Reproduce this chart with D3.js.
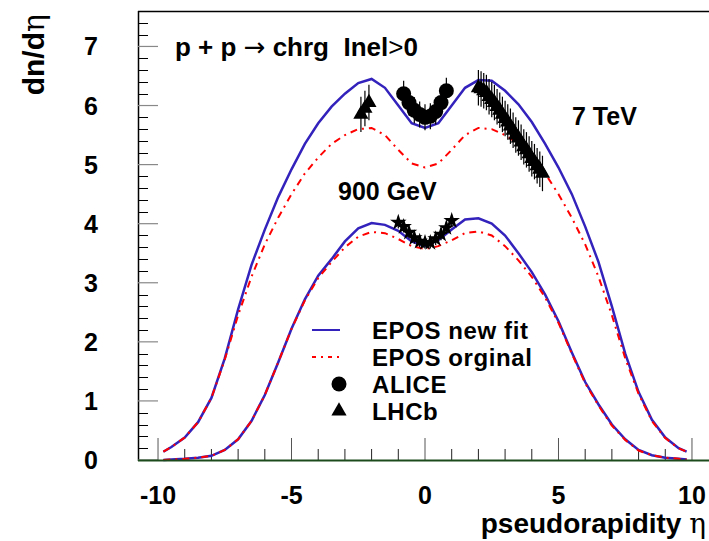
<!DOCTYPE html>
<html>
<head>
<meta charset="utf-8">
<script src="https://cdn.jsdelivr.net/npm/d3@7"></script>
<style>
  body { margin: 0; background: #fff; }
  svg { display: block; font-family: "Liberation Sans", Arial, sans-serif; font-weight: bold; }
  text { white-space: pre; }
</style>
</head>
<body>
<div id="graph"></div>
<script>
// pseudorapidity grid used by the model curves
var etaGrid = [-9.8,-9.5,-9,-8.5,-8,-7.5,-7,-6.5,-6,-5.5,-5,-4.5,-4,-3.5,-3,-2.5,-2,-1.5,-1,-0.5,0,
               0.5,1,1.5,2,2.5,3,3.5,4,4.5,5,5.5,6,6.5,7,7.5,8,8.5,9,9.5,9.8];

// EPOS new fit, 7 TeV
var newFit7 = [0.14,0.22,0.38,0.64,1.05,1.72,2.55,3.3,3.9,4.45,4.92,5.35,5.7,5.98,6.2,6.38,6.45,6.3,6.0,5.7,5.62,
               5.7,6.0,6.3,6.43,6.42,6.25,6.02,5.72,5.35,4.95,4.5,3.95,3.35,2.6,1.8,1.15,0.68,0.38,0.2,0.14];
// EPOS original, 7 TeV
var orig7 =   [0.14,0.22,0.38,0.64,1.05,1.7,2.45,3.1,3.65,4.1,4.5,4.85,5.12,5.35,5.5,5.6,5.62,5.5,5.25,5.02,4.95,
               5.02,5.25,5.5,5.62,5.6,5.5,5.35,5.12,4.85,4.5,4.1,3.65,3.1,2.45,1.72,1.12,0.66,0.37,0.2,0.14];
// EPOS new fit, 900 GeV
var newFit09 = [0.0,0.01,0.02,0.04,0.07,0.17,0.35,0.66,1.1,1.65,2.22,2.72,3.12,3.4,3.7,3.92,4.01,3.98,3.88,3.7,3.62,
                3.72,3.9,4.07,4.09,4.0,3.8,3.5,3.18,2.8,2.35,1.82,1.32,0.94,0.6,0.35,0.17,0.08,0.04,0.02,0.01];
// EPOS original, 900 GeV
var orig09 =   [0.0,0.01,0.02,0.04,0.07,0.17,0.35,0.66,1.1,1.65,2.22,2.7,3.08,3.35,3.6,3.78,3.86,3.84,3.74,3.62,3.57,
                3.62,3.72,3.84,3.87,3.8,3.62,3.38,3.1,2.75,2.32,1.8,1.3,0.92,0.58,0.34,0.16,0.08,0.04,0.02,0.01];

// ALICE 7 TeV
var aliceEta = [-0.8,-0.6,-0.4,-0.2,0,0.2,0.4,0.6,0.8];
var aliceVal = [6.2,6.05,5.92,5.85,5.8,5.82,5.9,6.05,6.25];
var aliceErr = 0.22;

// LHCb 7 TeV
var lhcbEta = [-2.4,-2.25,-2.1,
               2.0,2.1,2.2,2.3,2.4,2.5,2.6,2.7,2.8,2.9,3.0,3.1,3.2,3.3,3.4,3.5,3.6,3.7,3.8,3.9,4.0,4.1,4.2,4.3,4.4];
var lhcbVal = [5.85,5.95,6.05,
               6.3,6.28,6.25,6.22,6.15,6.1,6.05,5.98,5.92,5.85,5.78,5.72,5.65,5.58,5.5,5.45,5.38,5.3,5.25,5.18,5.1,5.05,4.98,4.92,4.85];
var lhcbErr = 0.3;

// ALICE 900 GeV
var alice09Eta = [-1,-0.8,-0.6,-0.4,-0.2,0,0.2,0.4,0.6,0.8,1.0];
var alice09Val = [4.02,3.95,3.85,3.76,3.7,3.68,3.68,3.74,3.82,3.93,4.05];

var xMajor = [-10,-5,0,5,10];
var yMajor = [0,1,2,3,4,5,6,7];

var legendLabels = ["EPOS new fit", "EPOS orginal", "ALICE", "LHCb"];

var width = 709, height = 541;
var blue = "#3322bb", red = "#ff0000";

var svg = d3.select("#graph").append("svg")
    .attr("width", width)
    .attr("height", height);

var x = d3.scaleLinear().domain([-10.75, 10.75]).range([138, 712]);
var y = d3.scaleLinear().domain([0, 7.6]).range([460, 11]);

// frame
svg.append("line").attr("x1", 138).attr("x2", width).attr("y1", 11.5).attr("y2", 11.5)
    .attr("stroke", "#000").attr("stroke-width", 1.5);
svg.append("line").attr("x1", 138.5).attr("x2", 138.5).attr("y1", 11).attr("y2", 461)
    .attr("stroke", "#000").attr("stroke-width", 1.5);

// y ticks
var yMinor = d3.range(0, 7.6, 0.2).filter(d => Math.abs(d - Math.round(d)) > 0.01);
svg.append("g").selectAll("line").data(yMinor).enter().append("line")
    .attr("x1", 138).attr("x2", 148)
    .attr("y1", d => Math.round(y(d)) + 0.5).attr("y2", d => Math.round(y(d)) + 0.5)
    .attr("stroke", "#000");
svg.append("g").selectAll("line").data(yMajor).enter().append("line")
    .attr("x1", 138).attr("x2", 158)
    .attr("y1", d => y(d)).attr("y2", d => y(d))
    .attr("stroke", "#888").attr("stroke-width", 1.2);

// x ticks
var xMinor = d3.range(-10, 11, 1).filter(d => d % 5 !== 0);
svg.append("g").selectAll("line").data(xMinor).enter().append("line")
    .attr("x1", d => x(d)).attr("x2", d => x(d))
    .attr("y1", 460).attr("y2", 449)
    .attr("stroke", "#222");
svg.append("g").selectAll("line").data(xMajor).enter().append("line")
    .attr("x1", d => x(d)).attr("x2", d => x(d))
    .attr("y1", 460).attr("y2", 438)
    .attr("stroke", "#555");

// tick labels
svg.append("g").selectAll("text").data(yMajor).enter().append("text")
    .attr("x", 98).attr("y", d => y(d) + 9)
    .attr("text-anchor", "end")
    .attr("font-size", "25px")
    .text(d => d);
svg.append("g").selectAll("text").data(xMajor).enter().append("text")
    .attr("x", d => x(d)).attr("y", 504)
    .attr("text-anchor", "middle")
    .attr("font-size", "25px")
    .text(d => d);

// axis titles
var yt = svg.append("text")
    .attr("transform", "translate(44,14) rotate(-90)")
    .attr("text-anchor", "end")
    .attr("font-size", "30px");
yt.append("tspan").text("dn/d");
yt.append("tspan").attr("font-family", "DejaVu Serif, serif").attr("font-weight", "normal").text("η");

var xt = svg.append("text")
    .attr("x", 706).attr("y", 533)
    .attr("text-anchor", "end")
    .attr("font-size", "28px");
xt.append("tspan").text("pseudorapidity ");
xt.append("tspan").attr("font-family", "DejaVu Serif, serif").attr("font-weight", "normal").text("η");

// curves
var line = d3.line()
    .x((d, i) => x(etaGrid[i]))
    .y(d => y(d));

[newFit7, newFit09].forEach(function(s) {
  svg.append("path").datum(s)
      .attr("d", line)
      .attr("fill", "none")
      .attr("stroke", blue)
      .attr("stroke-width", 2.5);
});
[orig7, orig09].forEach(function(s) {
  svg.append("path").datum(s)
      .attr("d", line)
      .attr("fill", "none")
      .attr("stroke", red)
      .attr("stroke-width", 2)
      .attr("stroke-dasharray", "7,5,2,5");
});

// bottom axis line
svg.append("line").attr("x1", 138).attr("x2", width).attr("y1", 460.5).attr("y2", 460.5)
    .attr("stroke", "#1d4a1d").attr("stroke-width", 2);

// error bars
function errBars(etas, vals, err) {
  svg.append("g").selectAll("line").data(vals).enter().append("line")
      .attr("x1", (d, i) => x(etas[i])).attr("x2", (d, i) => x(etas[i]))
      .attr("y1", d => y(d - err)).attr("y2", d => y(d + err))
      .attr("stroke", "#000").attr("stroke-width", 1.2);
}
errBars(aliceEta, aliceVal, aliceErr);
errBars(lhcbEta, lhcbVal, lhcbErr);
errBars(alice09Eta, alice09Val, 0.1);

// markers
svg.append("g").selectAll("circle").data(aliceVal).enter().append("circle")
    .attr("cx", (d, i) => x(aliceEta[i])).attr("cy", d => y(d))
    .attr("r", 7.5).attr("fill", "#000");

var tri = d3.symbol().type(d3.symbolTriangle).size(100);
svg.append("g").selectAll("path").data(lhcbVal).enter().append("path")
    .attr("d", tri)
    .attr("transform", (d, i) => "translate(" + x(lhcbEta[i]) + "," + y(d) + ")")
    .attr("fill", "#000");

var star = d3.symbol().type(d3.symbolStar).size(85);
svg.append("g").selectAll("path").data(alice09Val).enter().append("path")
    .attr("d", star)
    .attr("transform", (d, i) => "translate(" + x(alice09Eta[i]) + "," + y(d) + ")")
    .attr("fill", "#000");

// annotations
var title = svg.append("text").attr("x", 175).attr("y", 56).attr("font-size", "26px");
title.append("tspan").text("p + p ");
title.append("tspan").attr("font-family", "DejaVu Sans, sans-serif").attr("font-weight", "normal").text("→");
title.append("tspan").text(" chrg  Inel");
title.append("tspan").attr("font-weight", "normal").text(">");
title.append("tspan").text("0");

svg.append("text").attr("x", 572).attr("y", 125).attr("font-size", "25px").text("7 TeV");
svg.append("text").attr("x", 338).attr("y", 200).attr("font-size", "25px").text("900 GeV");

// legend
var lg = svg.append("g");
var rowY = [330, 357, 384, 411];
lg.append("line").attr("x1", 312).attr("x2", 340).attr("y1", rowY[0]).attr("y2", rowY[0])
    .attr("stroke", blue).attr("stroke-width", 2);
lg.append("line").attr("x1", 312).attr("x2", 340).attr("y1", rowY[1]).attr("y2", rowY[1])
    .attr("stroke", red).attr("stroke-width", 2).attr("stroke-dasharray", "4,5,2,5");
lg.append("circle").attr("cx", 339).attr("cy", rowY[2]).attr("r", 7.5).attr("fill", "#000");
lg.append("path").attr("d", d3.symbol().type(d3.symbolTriangle).size(100))
    .attr("transform", "translate(339," + rowY[3] + ")").attr("fill", "#000");
lg.selectAll("text").data(legendLabels).enter().append("text")
    .attr("x", 372).attr("y", (d, i) => rowY[i] + 9)
    .attr("font-size", "24px")
    .attr("letter-spacing", "0.6px")
    .text(d => d);
</script>
</body>
</html>
